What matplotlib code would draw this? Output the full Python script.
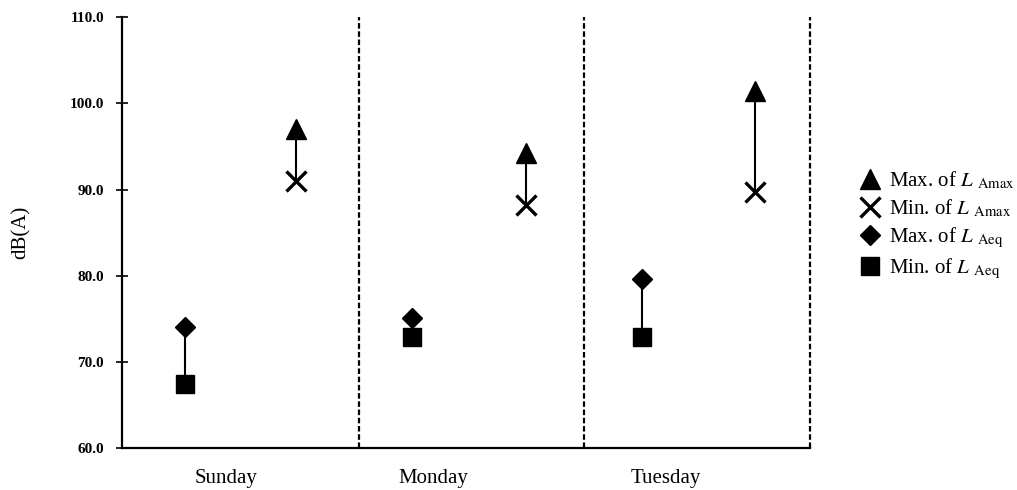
import numpy as np
import matplotlib
matplotlib.use("Agg")
import matplotlib.pyplot as plt

plt.rcParams['font.family'] = ['Liberation Serif', 'DejaVu Serif']
plt.rcParams['mathtext.fontset'] = 'stix'

days = ['Sunday', 'Monday', 'Tuesday']
amax_max = [97.0, 94.3, 101.5]
amax_min = [91.0, 88.2, 89.7]
aeq_max = [74.0, 75.1, 79.6]
aeq_min = [67.4, 72.9, 72.9]

grp = np.arange(len(days))
x_aeq = grp + np.array([0.23, 0.235, 0.255])
x_amax = grp + np.array([0.72, 0.74, 0.755])

fig = plt.figure(figsize=(10.17, 4.9), dpi=100)
ax = fig.add_axes([0.12, 0.0857, 0.6765, 0.879])

# range lines between min and max
ax.vlines(x_aeq, aeq_min, aeq_max, color='black', lw=1.5, zorder=2)
ax.vlines(x_amax, amax_min, amax_max, color='black', lw=1.5, zorder=2)

ax.plot(x_amax, amax_max, ls='none', marker='^', ms=15, color='black',
        label=r'Max. of $\mathit{L}$ $_{\mathrm{Amax}}$', zorder=3)
ax.plot(x_amax, amax_min, ls='none', marker='x', ms=15, mew=2.4, color='black',
        label=r'Min. of $\mathit{L}$ $_{\mathrm{Amax}}$', zorder=3)
ax.plot(x_aeq, aeq_max, ls='none', marker='D', ms=10, color='black',
        label=r'Max. of $\mathit{L}$ $_{\mathrm{Aeq}}$', zorder=3)
ax.plot(x_aeq, aeq_min, ls='none', marker='s', ms=13, color='black',
        label=r'Min. of $\mathit{L}$ $_{\mathrm{Aeq}}$', zorder=3)

# dashed day separators
for xd in grp + 1:
    ax.axvline(xd, color='black', lw=1.6, ls=(0, (2.5, 1.2)), zorder=1,
               clip_on=False)

ax.set_xlim(-0.05, 3)
ax.set_ylim(60, 110)
ax.set_yticks(np.arange(60, 111, 10))
ax.set_yticklabels(['%.1f' % v for v in np.arange(60, 111, 10)],
                   fontsize=11, fontweight='bold')
ax.tick_params(axis='y', direction='inout', length=8, width=1.2, pad=9)
ax.set_xticks(grp + np.array([0.41, 0.33, 0.36]))
ax.set_xticklabels(days, fontsize=15)
ax.tick_params(axis='x', length=0, pad=15)

ax.spines['top'].set_visible(False)
ax.spines['right'].set_visible(False)
ax.spines['left'].set_linewidth(1.6)
ax.spines['bottom'].set_linewidth(1.6)

ax.set_ylabel('dB(A)', fontsize=15, labelpad=28)

ax.legend(loc='center left', bbox_to_anchor=(1.06, 0.517), frameon=False,
          fontsize=15, handlelength=1.0, handletextpad=0.4, labelspacing=0.3,
          borderaxespad=0)

fig.savefig('out.png', dpi=100)
